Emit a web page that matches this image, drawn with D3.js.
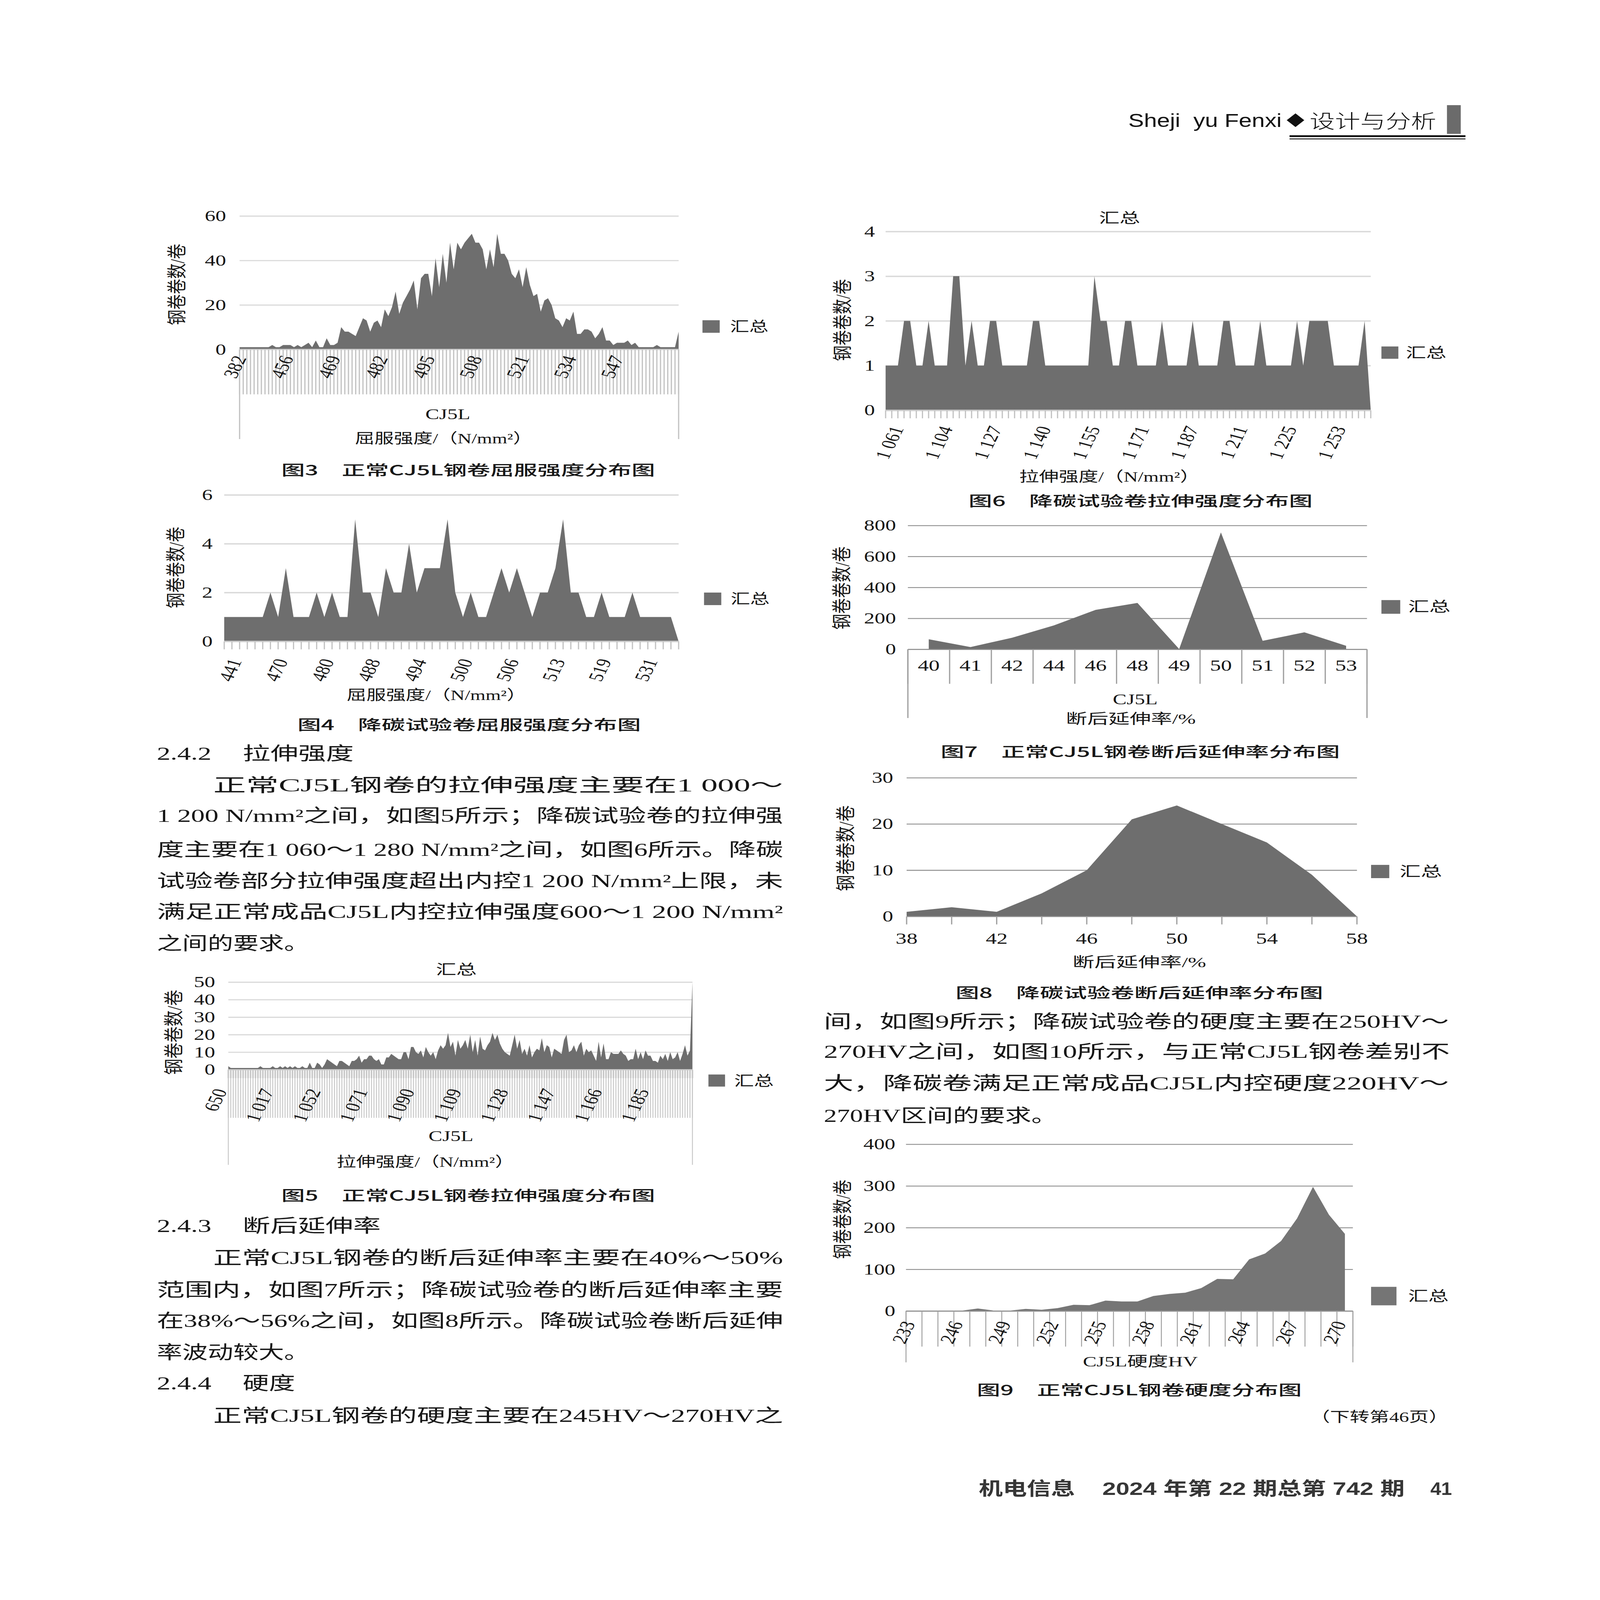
<!DOCTYPE html>
<html><head><meta charset="utf-8">
<script src="https://cdn.jsdelivr.net/npm/d3@7"></script>
<style>
html,body{margin:0;padding:0;background:#fff;overflow:hidden;width:100%;height:100%;}
svg{display:block;width:100vw;height:100vh;}
</style></head>
<body>
<svg id="page" viewBox="0 0 5102 7015" preserveAspectRatio="none"></svg>
<script>
// ---------------- DATA ----------------
// Fig 3 正常CJ5L钢卷屈服强度分布
const fig3Cats = [382,
444,445,446,447,448,449,450,451,452,453,
454,455,456,457,458,459,460,461,462,463,
464,465,466,467,468,469,470,471,472,473,
474,475,476,477,478,479,480,481,482,483,
484,485,486,487,488,489,490,491,492,493,
494,495,496,497,498,499,500,501,502,503,
504,505,506,507,508,509,510,511,512,513,
514,515,516,517,518,519,520,521,522,523,
524,525,526,527,528,529,530,531,532,533,
534,535,536,537,538,539,540,541,542,543,
544,545,546,547,548,549,550,551,552,553,
554,555,556,557,558,559,560,561,562,563,
564];
const fig3Vals = [1,1,1,1,1,1,1,1,1,2,
1,1,2,2,2,1,2,1,2,3,
1,4,1,1,5,2,2,3,10,8,
8,7,6,10,14,13,8,12,13,10,
18,15,19,26,16,21,24,27,31,18,
32,34,34,24,41,28,43,30,48,36,
48,45,48,50,52,48,48,45,36,45,
37,52,43,43,40,34,32,36,28,37,
29,24,25,17,22,23,20,14,13,10,
14,13,17,7,7,9,9,8,5,7,
10,4,4,2,3,3,3,4,2,3,
1,1,1,1,1,2,1,1,1,1,
1,8];

// Fig 4 降碳试验卷屈服强度分布
const fig4Cats = [441,452,458,462,465,468,470,472,474,475,477,479,480,482,483,484,486,487,488,489,
490,491,492,493,494,495,496,497,498,499,500,501,502,503,504,505,506,507,508,509,
510,511,513,514,515,516,517,518,519,520,522,524,526,528,531,533,536,540,545,null];
const fig4Vals = [1,1,1,1,1,1,2,1,3,1, 1,1,2,1,2,1,1,5,2,2,
1,3,2,2,4,2,3,3,3,5, 2,1,2,1,1,2,3,2,3,2,
1,2,2,3,5,2,2,1,1,2, 1,1,1,2,1,1,1,1,1,0];

// Fig 5 正常CJ5L钢卷拉伸强度分布
const fig5Cats = [650,
950,965,975,982,987,990,993,996,998,1000,1002,1004,1006,1008,1010,1012,1014,1016,
1017,
1018,1019,1021,1022,1024,1026,1028,1030,1032,1034,1036,1038,1040,1042,1044,1046,1048,1050,
1052,1053,1054,1055,1056,1057,1058,1059,1060,1061,
1062,1063,1064,1065,1066,1067,1068,1069,1070,1071,
1072,1073,1074,1075,1076,1077,1078,1079,1080,1081,
1082,1083,1084,1085,1086,1087,1088,1089,1090,1091,
1092,1093,1094,1095,1096,1097,1098,1099,1100,1101,
1102,1103,1104,1105,1106,1107,1108,1109,1110,1111,
1112,1113,1114,1115,1116,1117,1118,1119,1120,1121,
1122,1123,1124,1125,1126,1127,1128,1129,1130,1131,
1132,1133,1134,1135,1136,1137,1138,1139,1140,1141,
1142,1143,1144,1145,1146,1147,1148,1149,1150,1151,
1152,1153,1154,1155,1156,1157,1158,1159,1160,1161,
1162,1163,1164,1165,1166,1167,1168,1169,1170,1171,
1172,1173,1174,1175,1176,1177,1178,1179,1180,1181,
1182,1183,1184,1185,1186,1187,1188,1189,1190,1191,
1192,1193,1194,1195,1196,1197,1198,1199,1200,1201,
null];
const fig5Vals = [2,1,1,1,1,1,1,1,1,1,
1,1,1,2,1,1,1,1,2,1,
1,2,1,2,1,2,1,2,1,1,
2,1,1,4,1,1,4,3,1,3,
6,5,4,3,2,5,5,4,3,2,
5,5,6,8,4,6,6,8,8,6,
5,6,3,3,7,7,9,8,7,6,
6,10,10,6,13,13,10,9,11,7,
13,10,8,10,6,11,14,12,14,21,
13,16,8,17,12,14,17,12,20,10,
17,8,19,12,11,14,16,21,17,20,
15,12,10,9,8,14,20,12,17,9,
12,8,14,7,10,12,11,18,10,14,
13,7,12,11,10,9,17,20,10,11,
14,10,14,16,8,12,10,11,8,5,
16,7,15,6,6,10,9,9,9,11,
9,8,5,6,6,12,6,10,6,11,
8,8,5,5,4,8,6,9,5,10,
6,7,10,5,9,14,8,11,50];

// Fig 6 降碳试验卷拉伸强度分布
const fig6Cats = [1061,1072,1080,1086,1090,1094,1097,1101,1104,
1107,1110,1112,1115,1118,1121,1124,1127,
1129,1130,1132,1133,1135,1136,1138,1140,
1141,1143,1145,1147,1148,1150,1152,1155,
1157,1159,1161,1163,1165,1167,1169,1171,
1173,1175,1177,1179,1181,1183,1185,1187,
1189,1192,1195,1198,1201,1204,1208,1211,
1213,1214,1216,1218,1219,1221,1223,1225,
1228,1231,1234,1237,1240,1244,1249,1253,
1256,1259,1262,1266,1270,1275,null];
const fig6Vals = [1,1,1,2,2,1,1,2,1,1,
1,3,3,1,2,1,1,2,2,1,
1,1,1,1,2,2,1,1,1,1,
1,1,1,1,3,2,2,1,1,2,
2,1,1,1,1,2,1,1,1,1,
2,1,1,1,1,2,2,1,1,1,
1,2,1,1,1,1,1,2,1,2,
2,2,2,1,1,1,1,1,2,0];

// Fig 7 正常CJ5L钢卷断后延伸率分布
const fig7Cats = [40,41,42,44,46,48,49,50,51,52,53];
const fig7Vals = [65,15,75,155,255,300,2,755,55,110,23];

// Fig 8 降碳试验卷断后延伸率分布
const fig8Cats = [38,40,42,44,46,48,50,52,54,56,58];
const fig8Vals = [1,2,1,5,10,21,24,20,16,9,0];

// Fig 9 正常CJ5L钢卷硬度分布
const fig9Cats = [233,244,245,246,247,248,249,250,251,252,253,254,255,256,257,258,259,260,261,262,263,264,265,266,267,268,269,270];
const fig9Vals = [1,1,1,1,6,1,1,5,3,7,15,14,25,23,23,36,41,44,55,77,76,124,138,168,222,298,231,185];

// Y tick values
const fig3Ticks = [0,20,40,60];
const fig4Ticks = [0,2,4,6];
const fig5Ticks = [0,10,20,30,40,50];
const fig6Ticks = [0,1,2,3,4];
const fig7Ticks = [0,200,400,600,800];
const fig8Ticks = [0,10,20,30];
const fig9Ticks = [0,100,200,300,400];

// Body text lines
const leftTop = [
  "正常CJ5L钢卷的拉伸强度主要在1 000～",
  "1 200 N/mm²之间，如图5所示；降碳试验卷的拉伸强",
  "度主要在1 060～1 280 N/mm²之间，如图6所示。降碳",
  "试验卷部分拉伸强度超出内控1 200 N/mm²上限，未",
  "满足正常成品CJ5L内控拉伸强度600～1 200 N/mm²",
  "之间的要求。"
];
const leftBottom = [
  "正常CJ5L钢卷的断后延伸率主要在40%～50%",
  "范围内，如图7所示；降碳试验卷的断后延伸率主要",
  "在38%～56%之间，如图8所示。降碳试验卷断后延伸",
  "率波动较大。"
];
const rightText = [
  "间，如图9所示；降碳试验卷的硬度主要在250HV～",
  "270HV之间，如图10所示，与正常CJ5L钢卷差别不",
  "大，降碳卷满足正常成品CJ5L内控硬度220HV～",
  "270HV区间的要求。"
];

// ---------------- DRAWING ----------------
const svg = d3.select('#page');
const SERIF = '"Liberation Serif","Noto Sans CJK SC",serif';
const SANS = '"Noto Sans CJK SC","Liberation Sans",sans-serif';
const INK = '#161616';

function txt(g, s, x, y, o = {}) {
  const t = g.append('text').attr('x', x).attr('y', y).text(s)
    .attr('font-family', o.family || SERIF)
    .attr('font-size', o.size || 64)
    .attr('fill', o.fill || INK)
    .attr('text-anchor', o.anchor || 'start')
    .attr('dominant-baseline', o.baseline || 'central')
    .attr('xml:space', 'preserve');
  if (o.len) t.attr('textLength', o.len).attr('lengthAdjust', o.adjust || 'spacingAndGlyphs');
  if (o.weight) t.attr('font-weight', o.weight);
  if (o.rotate) t.attr('transform', `rotate(${o.rotate},${x},${y})`);
  return t;
}
function fmt(n) {
  if (n === null) return '';
  if (n >= 1000) return Math.floor(n / 1000) + '\u00A0' + String(n % 1000).padStart(3, '0');
  return String(n);
}

function areaChart(c) {
  const g = svg.append('g');
  const y = d3.scaleLinear().domain([0, c.yMax]).range([c.y0, c.yTop]);
  const idx = d3.range(c.cats.length);
  let xPos, xb = null;
  if (c.band) {
    xb = d3.scaleBand().domain(idx).range([c.x0, c.x1]).padding(0);
    xPos = i => xb(i) + xb.bandwidth() / 2;
  } else {
    const xp = d3.scalePoint().domain(idx).range([c.x0, c.x1]).padding(0);
    xPos = i => xp(i);
  }
  // gridlines + y labels
  const ax = d3.axisLeft(y).tickValues(c.yTicks).tickSize(-(c.x1 - c.x0)).tickPadding(c.yPad).tickFormat(d3.format('d'));
  const ga = g.append('g').attr('transform', `translate(${c.x0},0)`).call(ax);
  ga.attr('font-family', SERIF).attr('font-size', c.ySize || 68);
  ga.select('.domain').remove();
  ga.selectAll('.tick line').attr('stroke', c.grid).attr('stroke-width', c.gw);
  ga.selectAll('.tick text').attr('fill', INK);
  // area
  const area = d3.area().x((d, i) => xPos(i)).y0(y(0)).y1(d => y(d));
  g.append('path').datum(c.vals).attr('d', area).attr('fill', c.fill);
  // axis baseline
  g.append('line').attr('x1', c.x0).attr('x2', c.x1).attr('y1', y(0)).attr('y2', y(0))
    .attr('stroke', c.axisColor).attr('stroke-width', c.gw);
  // ticks / dividers
  const tk = c.tick;
  if (tk.type === 'point') {
    g.selectAll('line.tk').data(idx).join('line')
      .attr('x1', i => xPos(i)).attr('x2', i => xPos(i))
      .attr('y1', c.y0).attr('y2', c.y0 + tk.len)
      .attr('stroke', tk.color).attr('stroke-width', tk.w);
    if (tk.len2) {
      g.selectAll('line.tk2').data(idx).join('line')
        .attr('x1', i => xPos(i)).attr('x2', i => xPos(i))
        .attr('y1', c.y0).attr('y2', c.y0 + tk.len2)
        .attr('stroke', tk.color2).attr('stroke-width', tk.w2);
    }
  } else if (tk.type === 'band') {
    const edges = idx.map(i => xb(i)).concat([c.x1]);
    g.selectAll('line.tk').data(edges).join('line')
      .attr('x1', d => d).attr('x2', d => d)
      .attr('y1', c.y0).attr('y2', c.y0 + tk.len)
      .attr('stroke', tk.color).attr('stroke-width', tk.w);
  }
  if (c.border) {
    [c.x0, c.x1].forEach(xx => g.append('line').attr('x1', xx).attr('x2', xx)
      .attr('y1', c.y0).attr('y2', c.border).attr('stroke', c.tick.color).attr('stroke-width', c.tick.w));
  }
  // category labels
  const maxL = c.maxLabel === undefined ? Infinity : c.maxLabel;
  const labs = idx.filter(i => i % c.every === 0 && c.cats[i] !== null && i <= maxL);
  if (c.rot) {
    g.selectAll('text.xl').data(labs).join('text')
      .attr('transform', i => `translate(${xPos(i) + c.ldx},${c.y0 + c.ldy}) rotate(-70)`)
      .attr('text-anchor', 'end').attr('dominant-baseline', 'central')
      .attr('font-family', SERIF).attr('font-size', c.lSize || 66).attr('fill', INK)
      .text(i => fmt(c.cats[i]));
  } else {
    g.selectAll('text.xl').data(labs).join('text')
      .attr('x', i => xPos(i)).attr('y', c.labY)
      .attr('text-anchor', 'middle').attr('dominant-baseline', 'central')
      .attr('font-family', SERIF).attr('font-size', c.lSize || 70).attr('fill', INK)
      .text(i => fmt(c.cats[i]));
  }
  // legend
  const L = c.legend;
  g.append('rect').attr('x', L.x).attr('y', L.y).attr('width', L.s).attr('height', L.s).attr('fill', c.fill);
  txt(g, '汇总', L.tx, L.ty, { size: 62, len: L.tl });
  // y title
  txt(g, '钢卷卷数/卷', c.yt.x, c.yt.y, { size: 64, anchor: 'middle', rotate: -90, len: c.yt.len });
  return g;
}

const FILL = '#6e6e6e';
const LIGHT = '#d9d9d9';
const DARKG = '#8f8f8f';

// Fig 3
const g3 = areaChart({cats: fig3Cats, vals: fig3Vals, x0: 764, x1: 2164, y0: 1532, yTop: 947, yMax: 60, yTicks: fig3Ticks,
  yPad: 43, grid: LIGHT, gw: 5, axisColor: '#cdcdcd', fill: FILL,
  tick: {type: 'point', len: 197, w: 4, color: '#c4c4c4'}, border: 1925,
  every: 13, maxLabel: 104, rot: true, ldx: 2, ldy: 30,
  legend: {x: 2240, y: 1404, s: 55, tx: 2328, ty: 1433, tl: 122},
  yt: {x: 565, y: 1247, len: 357}});
txt(g3, 'CJ5L', 1428, 1816, {size: 66, anchor: 'middle'});
txt(g3, '屈服强度/（N/mm²）', 1415, 1922, {size: 62, anchor: 'middle', len: 566});
txt(g3, '图3　正常CJ5L钢卷屈服强度分布图', 1493, 2058, {size: 62, anchor: 'middle', len: 1192, family: SANS, weight: 500});

// Fig 4
const g4 = areaChart({cats: fig4Cats, vals: fig4Vals, x0: 715, x1: 2164, y0: 2812, yTop: 2170, yMax: 6, yTicks: fig4Ticks,
  yPad: 37, grid: LIGHT, gw: 6, axisColor: '#cdcdcd', fill: FILL,
  tick: {type: 'point', len: 35, w: 4, color: '#c4c4c4'},
  every: 6, rot: true, ldx: 36, ldy: 79,
  legend: {x: 2245, y: 2598, s: 55, tx: 2330, ty: 2626, tl: 124},
  yt: {x: 561, y: 2488, len: 357}});
txt(g4, '屈服强度/（N/mm²）', 1392, 3048, {size: 62, anchor: 'middle', len: 573});
txt(g4, '图4　降碳试验卷屈服强度分布图', 1496, 3175, {size: 62, anchor: 'middle', len: 1095, family: SANS, weight: 500});

// Fig 5
const g5 = areaChart({cats: fig5Cats, vals: fig5Vals, x0: 728, x1: 2208, y0: 4690, yTop: 4306, yMax: 50, yTicks: fig5Ticks,
  yPad: 42, grid: LIGHT, gw: 5, axisColor: '#cdcdcd', fill: FILL,
  tick: {type: 'point', len: 211, w: 3, color: '#c8c8c8', len2: 37, w2: 5, color2: '#c8c8c8'}, border: 5107,
  every: 19, rot: true, ldx: -24, ldy: 86,
  legend: {x: 2259, y: 4711, s: 53, tx: 2341, ty: 4739, tl: 126},
  yt: {x: 555, y: 4526, len: 373}});
txt(g5, '汇总', 1455, 4252, {size: 62, anchor: 'middle', len: 130});
txt(g5, 'CJ5L', 1438, 4981, {size: 66, anchor: 'middle'});
txt(g5, '拉伸强度/（N/mm²）', 1357, 5094, {size: 62, anchor: 'middle', len: 567});
txt(g5, '图5　正常CJ5L钢卷拉伸强度分布图', 1493, 5238, {size: 62, anchor: 'middle', len: 1192, family: SANS, weight: 500});

// Fig 6
const g6 = areaChart({cats: fig6Cats, vals: fig6Vals, x0: 2824, x1: 4371, y0: 1799, yTop: 1015, yMax: 4, yTicks: fig6Ticks,
  yPad: 34, grid: LIGHT, gw: 6, axisColor: '#cdcdcd', fill: FILL,
  tick: {type: 'point', len: 35, w: 4, color: '#c4c4c4'},
  every: 8, rot: true, ldx: 38, ldy: 72,
  legend: {x: 4405, y: 1519, s: 54, tx: 4483, ty: 1548, tl: 129},
  yt: {x: 2688, y: 1403, len: 360}});
txt(g6, '汇总', 3570, 956, {size: 62, anchor: 'middle', len: 131});
txt(g6, '拉伸强度/（N/mm²）', 3538, 2090, {size: 62, anchor: 'middle', len: 576});
txt(g6, '图6　降碳试验卷拉伸强度分布图', 3637, 2193, {size: 62, anchor: 'middle', len: 1097, family: SANS, weight: 500});

// Fig 7
const g7 = areaChart({cats: fig7Cats, vals: fig7Vals, band: true, x0: 2895, x1: 4359, y0: 2847, yTop: 2304, yMax: 800, yTicks: fig7Ticks,
  yPad: 38, grid: DARKG, gw: 4, axisColor: DARKG, fill: FILL,
  tick: {type: 'band', len: 151, w: 4, color: '#a0a0a0'}, border: 3148,
  every: 1, rot: false, labY: 2917, lSize: 70,
  legend: {x: 4405, y: 2631, s: 60, tx: 4490, ty: 2661, tl: 135},
  yt: {x: 2685, y: 2578, len: 365}});
txt(g7, 'CJ5L', 3620, 3066, {size: 66, anchor: 'middle'});
txt(g7, '断后延伸率/%', 3606, 3153, {size: 62, anchor: 'middle', len: 414});
txt(g7, '图7　正常CJ5L钢卷断后延伸率分布图', 3636, 3293, {size: 62, anchor: 'middle', len: 1273, family: SANS, weight: 500});

// Fig 8
const g8 = areaChart({cats: fig8Cats, vals: fig8Vals, x0: 2891, x1: 4327, y0: 4018, yTop: 3410, yMax: 30, yTicks: fig8Ticks,
  yPad: 43, grid: DARKG, gw: 4, axisColor: DARKG, fill: FILL,
  tick: {type: 'point', len: 35, w: 4, color: '#a0a0a0'},
  every: 2, rot: false, labY: 4114, lSize: 70,
  legend: {x: 4372, y: 3792, s: 58, tx: 4463, ty: 3822, tl: 135},
  yt: {x: 2698, y: 3719, len: 377}});
txt(g8, '断后延伸率/%', 3633, 4220, {size: 62, anchor: 'middle', len: 426});
txt(g8, '图8　降碳试验卷断后延伸率分布图', 3633, 4349, {size: 62, anchor: 'middle', len: 1172, family: SANS, weight: 500});

// Fig 9
const g9 = areaChart({cats: fig9Cats, vals: fig9Vals, band: true, x0: 2889, x1: 4314, y0: 5748, yTop: 5017, yMax: 400, yTicks: fig9Ticks,
  yPad: 34, grid: DARKG, gw: 4, axisColor: DARKG, fill: '#757575',
  tick: {type: 'band', len: 156, w: 3, color: '#a0a0a0'}, border: 5973,
  every: 3, rot: true, ldx: -16, ldy: 47,
  legend: {x: 4372, y: 5642, s: 81, tx: 4490, ty: 5684, tl: 129},
  yt: {x: 2688, y: 5346, len: 348}});
txt(g9, 'CJ5L硬度HV', 3636, 5969, {size: 62, anchor: 'middle', len: 366});
txt(g9, '图9　正常CJ5L钢卷硬度分布图', 3633, 6092, {size: 62, anchor: 'middle', len: 1036, family: SANS, weight: 500});
txt(g9, '（下转第46页）', 4619, 6212, {size: 62, anchor: 'end', len: 441});

// ---------------- BODY TEXT ----------------
const tb = svg.append('g');
const BODY = 80;
function para(lines, starts, ys, widths) {
  lines.forEach((s, i) => txt(tb, s, starts[i], ys[i], {size: BODY, len: widths[i]}));
}
// 2.4.2
txt(tb, '2.4.2', 500, 3304, {size: BODY, len: 174});
txt(tb, '拉伸强度', 774, 3304, {size: BODY, len: 354});
para(leftTop, [680, 500, 500, 500, 500, 500], [3442, 3577, 3725, 3862, 3998, 4137], [1817, 1997, 1997, 1997, 1997, 487]);
// 2.4.3
txt(tb, '2.4.3', 500, 5375, {size: BODY, len: 174});
txt(tb, '断后延伸率', 774, 5375, {size: BODY, len: 440});
para(leftBottom, [680, 500, 500, 500], [5515, 5656, 5791, 5930], [1817, 1997, 1997, 487]);
// 2.4.4
txt(tb, '2.4.4', 500, 6065, {size: BODY, len: 174});
txt(tb, '硬度', 774, 6065, {size: BODY, len: 167});
txt(tb, '正常CJ5L钢卷的硬度主要在245HV～270HV之', 680, 6207, {size: BODY, len: 1817});
// right column
para(rightText, [2627, 2627, 2627, 2627], [4479, 4610, 4749, 4891], [1993, 1996, 1993, 745]);

// ---------------- HEADER / FOOTER ----------------
const hd = svg.append('g');
txt(hd, 'Sheji\u00A0\u00A0yu Fenxi', 3598, 556, {family: '"Liberation Sans",Arial,sans-serif', size: 82, baseline: 'alphabetic', len: 489, fill: '#111'});
hd.append('path').attr('d', 'M4131,497 L4159,527 L4131,557 L4103,527 Z').attr('fill', '#111');
txt(hd, '设计与分析', 4176, 562, {family: SANS, size: 84, baseline: 'alphabetic', len: 404, weight: 300, fill: '#111'});
hd.append('rect').attr('x', 4614).attr('y', 461).attr('width', 44).attr('height', 126).attr('fill', '#6b6b6b');
hd.append('rect').attr('x', 4112).attr('y', 593).attr('width', 561).attr('height', 8).attr('fill', '#111');
hd.append('rect').attr('x', 4112).attr('y', 607).attr('width', 561).attr('height', 4).attr('fill', '#111');

const ft = svg.append('g');
const FOOT = {family: '"Liberation Sans","Noto Sans CJK SC",sans-serif', size: 80, weight: 'bold', fill: '#363636'};
txt(ft, '机电信息', 3121, 6527, Object.assign({len: 307}, FOOT));
txt(ft, '2024 年第 22 期总第 742 期', 3515, 6527, Object.assign({len: 964}, FOOT));
txt(ft, '41', 4561, 6527, Object.assign({len: 69}, FOOT));
</script>
</body></html>
